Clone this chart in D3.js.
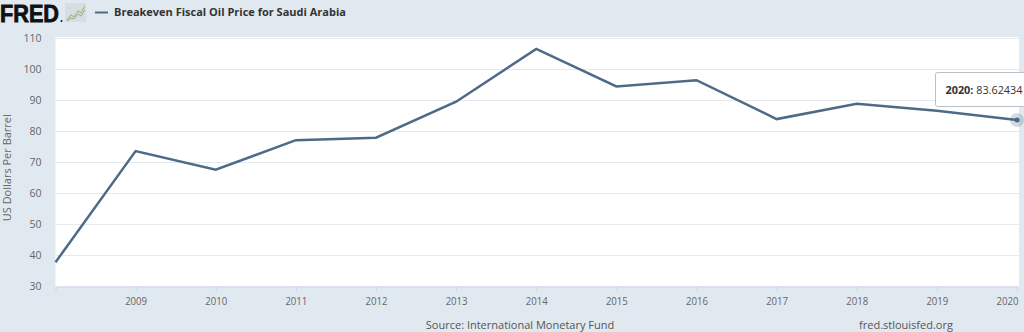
<!DOCTYPE html>
<html>
<head>
<meta charset="utf-8">
<script src="https://cdn.jsdelivr.net/npm/d3@7"></script>
<style>
  html, body { margin: 0; padding: 0; background: #e1e9f0; }
  svg { display: block; font-family: "Open Sans", "DejaVu Sans", sans-serif; }
</style>
</head>
<body>
<svg id="chart" width="1024" height="332"></svg>
<script>
// Breakeven fiscal oil price for Saudi Arabia, US dollars per barrel
const years = [2008, 2009, 2010, 2011, 2012, 2013, 2014, 2015, 2016, 2017, 2018, 2019, 2020];
const prices = [37.8, 73.6, 67.6, 77.1, 77.9, 89.5, 106.5, 94.4, 96.4, 83.9, 88.8, 86.6, 83.62434];
const yTicks = [30, 40, 50, 60, 70, 80, 90, 100, 110];
const xTicks = [2009, 2010, 2011, 2012, 2013, 2014, 2015, 2016, 2017, 2018, 2019, 2020];

const svg = d3.select("#chart");
const W = 1024, H = 332;
const plot = { left: 55.5, right: 1019, top: 37, bottom: 286.5 };

const x = d3.scaleLinear().domain([2008, 2020]).range([plot.left, 1017]);
const y = d3.scaleLinear().domain([30, 110]).range([plot.bottom, 38]);

// page background
svg.append("rect").attr("width", W).attr("height", H).attr("fill", "#e1e9f0");

// plot background
svg.append("rect")
  .attr("x", plot.left).attr("y", plot.top)
  .attr("width", plot.right - plot.left).attr("height", plot.bottom - plot.top)
  .attr("fill", "#ffffff");

// horizontal grid
svg.append("g").selectAll("line").data(yTicks.filter(d => d > 30)).join("line")
  .attr("x1", plot.left).attr("x2", plot.right)
  .attr("y1", d => Math.round(y(d)) + 0.5).attr("y2", d => Math.round(y(d)) + 0.5)
  .attr("stroke", "#e6e9ee").attr("stroke-width", 1);

// y axis labels
const yAxis = d3.axisLeft(y).tickValues(yTicks).tickSize(0).tickPadding(14);
svg.append("g")
  .attr("transform", `translate(${plot.left},0)`)
  .call(yAxis)
  .call(g => g.select(".domain").remove())
  .call(g => g.selectAll("text")
    .attr("fill", "#666").attr("font-size", 10.5)
    .attr("font-family", "Open Sans, sans-serif"));

// x axis: ticks and labels (last label pulled inside the right edge)
const xAxis = d3.axisBottom(x).tickValues(xTicks).tickFormat(d3.format("d")).tickSize(5).tickPadding(6);
svg.append("g")
  .attr("transform", `translate(0,${plot.bottom})`)
  .call(xAxis)
  .call(g => g.select(".domain").attr("stroke", "#ccd6eb"))
  .call(g => g.selectAll(".tick line").attr("stroke", "#ccd6eb"))
  .call(g => g.selectAll("text")
    .attr("fill", "#666").attr("font-size", 10)
    .attr("font-family", "Open Sans, sans-serif")
    .attr("textLength", 22).attr("lengthAdjust", "spacingAndGlyphs"))
  .call(g => g.selectAll(".tick").filter(d => d === 2020).select("text")
    .attr("text-anchor", "end").attr("x", 1));

// y axis title
svg.append("text")
  .attr("transform", `translate(11,${(plot.top + plot.bottom) / 2 + 6}) rotate(-90)`)
  .attr("text-anchor", "middle")
  .attr("fill", "#666").attr("font-size", 11)
  .text("US Dollars Per Barrel");

// series line
const line = d3.line().x((d, i) => x(years[i])).y(d => y(d));
svg.append("path")
  .datum(prices)
  .attr("d", line)
  .attr("fill", "none")
  .attr("stroke", "#4e6a89")
  .attr("stroke-width", 2.5)
  .attr("stroke-linejoin", "miter");

// highlighted last point
const lastI = years.length - 1;
const px = x(years[lastI]), py = y(prices[lastI]);
svg.append("circle").attr("cx", px).attr("cy", py).attr("r", 7)
  .attr("fill", "#4e6a89").attr("fill-opacity", 0.25);
svg.append("circle").attr("cx", px).attr("cy", py).attr("r", 2.5)
  .attr("fill", "#4e6a89");

// tooltip
const tip = svg.append("g").attr("transform", `translate(935.5,72.5)`);
tip.append("rect").attr("width", 100).attr("height", 34)
  .attr("fill", "#ffffff").attr("fill-opacity", 0.95)
  .attr("stroke", "#b9c0c8").attr("stroke-width", 1).attr("rx", 2);
const tt = tip.append("text").attr("x", 10).attr("y", 21)
  .attr("font-size", 11).attr("fill", "#333")
  .attr("textLength", 77).attr("lengthAdjust", "spacingAndGlyphs");
tt.append("tspan").attr("font-weight", "bold").text(`${years[lastI]}:`);
tt.append("tspan").text(` ${prices[lastI]}`);

// header: logo
svg.append("text")
  .attr("x", 0).attr("y", 22)
  .attr("font-family", "Liberation Sans, Arial, sans-serif")
  .attr("font-weight", "bold").attr("font-size", 23)
  .attr("textLength", 59).attr("lengthAdjust", "spacingAndGlyphs")
  .attr("stroke", "#111").attr("stroke-width", 0.8)
  .attr("fill", "#111")
  .text("FRED");
svg.append("circle").attr("cx", 61.5).attr("cy", 21).attr("r", 1).attr("fill", "#111");

// header: small graph icon
const icon = svg.append("g").attr("transform", "translate(65,3)");
icon.append("rect").attr("width", 21).attr("height", 19).attr("fill", "#d7dde3");
icon.append("path").attr("d", "M2,17 L6,12 L9,14 L13,8 L16,10 L20,3")
  .attr("fill", "none").attr("stroke", "#9cc36a").attr("stroke-width", 1.2);
icon.append("path").attr("d", "M2,18 L6,15 L9,16 L13,11 L16,13 L20,7")
  .attr("fill", "none").attr("stroke", "#9aa5b1").attr("stroke-width", 1);

// header: legend
svg.append("line").attr("x1", 95).attr("x2", 108).attr("y1", 12.5).attr("y2", 12.5)
  .attr("stroke", "#4e6a89").attr("stroke-width", 2);
svg.append("text").attr("x", 114).attr("y", 16)
  .attr("font-size", 11).attr("font-weight", "bold").attr("fill", "#333")
  .text("Breakeven Fiscal Oil Price for Saudi Arabia");

// footer
svg.append("text").attr("x", 520).attr("y", 329).attr("text-anchor", "middle")
  .attr("font-size", 11).attr("fill", "#555")
  .text("Source: International Monetary Fund");
svg.append("text").attr("x", 906).attr("y", 329).attr("text-anchor", "middle")
  .attr("font-size", 11).attr("fill", "#555")
  .text("fred.stlouisfed.org");
</script>
</body>
</html>
